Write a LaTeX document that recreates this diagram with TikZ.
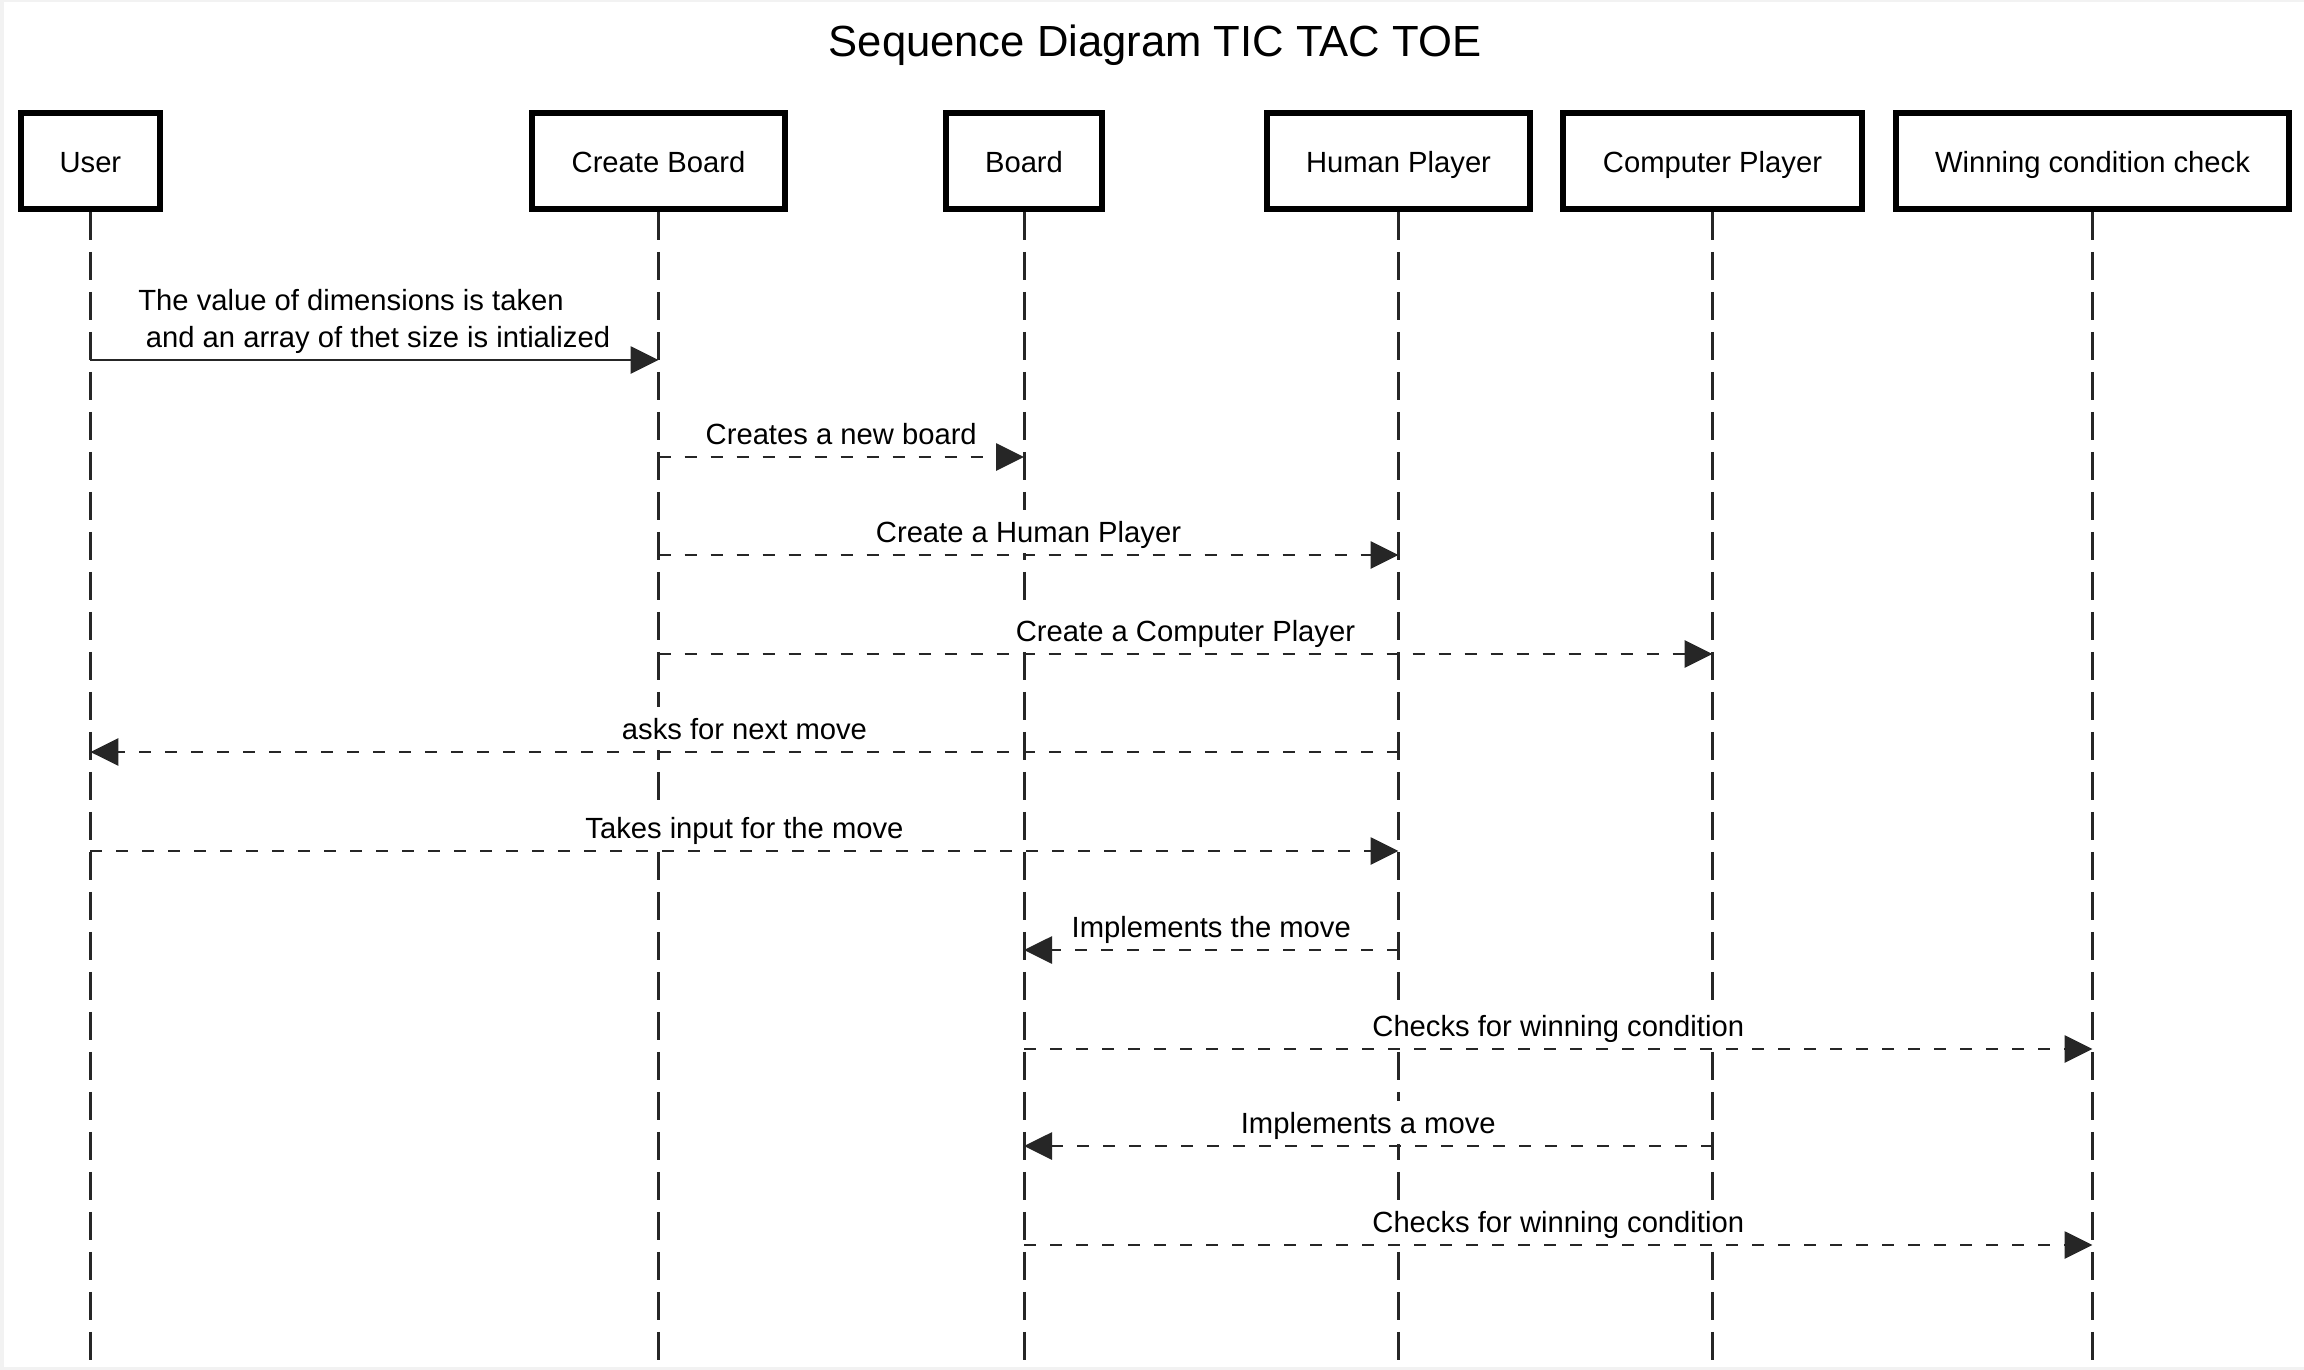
\documentclass[tikz,border=0pt]{standalone}
\usepackage{fontspec}
\setmainfont{Liberation Sans}
\usetikzlibrary{arrows.meta}
\begin{document}
\begin{tikzpicture}[x=0.5pt,y=-0.5pt,
  actor/.style={draw=black, line width=3pt, fill=white, minimum height=47.8pt, inner sep=0pt,
    text height=13pt, text depth=1.5pt, font=\fontsize{14.6}{17}\selectfont},
  life/.style={line width=1.5pt, dash pattern=on 14pt off 6pt, draw=black!85},
  msg/.style={line width=1.4pt, draw=black!85, -{Triangle[length=14pt,width=13.5pt]}},
  rmsg/.style={msg, dash pattern=on 6pt off 7pt},
  lbl/.style={font=\fontsize{14.6}{17}\selectfont, inner sep=0pt, anchor=base},
  mlbl/.style={lbl, fill=white, text height=16pt, text depth=5.5pt, inner xsep=2pt, inner ysep=0pt},
]
\useasboundingbox (0,0) rectangle (2304,1370);
\fill[black!5] (0,0) rectangle (2304,1370);
\fill[white] (4,2) rectangle (2304,1367);

\node[font=\fontsize{21.8}{26}\selectfont, inner sep=0pt] (title) at (1155,45) {Sequence Diagram TIC TAC TOE};

\node[actor, minimum width=69.8pt]  (u) at (90.4,161) {User};
\node[actor, minimum width=126.5pt] (cb) at (658.5,161) {Create Board};
\node[actor, minimum width=78pt]    (b) at (1024,161) {Board};
\node[actor, minimum width=131.5pt] (h) at (1398.5,161) {Human Player};
\node[actor, minimum width=149.5pt] (c) at (1712.5,161) {Computer Player};
\node[actor, minimum width=196.5pt] (w) at (2092.5,161) {Winning condition check};

\foreach \n in {u,cb,b,h,c,w} {
  \coordinate (\n end) at (\n |- 0,1360);
  \draw[life] (\n.south) -- (\n end);
}

% message 1
\draw[msg] (u |- 0,360) -- (cb |- 0,360);
\node[lbl, anchor=base west] (m1a) at (138,310.5) {The value of dimensions is taken};
\node[lbl, anchor=base west] (m1b) at (145.5,347) {and an array of thet size is intialized};

\draw[rmsg] (cb |- 0,457) -- (b |- 0,457) node[mlbl, midway, yshift=6.5pt] {Creates a new board};
\draw[rmsg] (cb |- 0,555) -- (h |- 0,555) node[mlbl, midway, yshift=6.5pt] {Create a Human Player};
\draw[rmsg] (cb |- 0,654) -- (c |- 0,654) node[mlbl, midway, yshift=6.5pt] {Create a Computer Player};
\draw[rmsg] (h |- 0,752) -- (u |- 0,752) node[mlbl, midway, yshift=6.5pt] {asks for next move};
\draw[rmsg] (u |- 0,851) -- (h |- 0,851) node[mlbl, midway, yshift=6.5pt] {Takes input for the move};
\draw[rmsg] (h |- 0,950) -- (b |- 0,950) node[mlbl, midway, yshift=6.5pt] {Implements the move};
\draw[rmsg] (b |- 0,1049) -- (w |- 0,1049) node[mlbl, midway, yshift=6.5pt] {Checks for winning condition};
\draw[rmsg] (c |- 0,1146) -- (b |- 0,1146) node[mlbl, midway, yshift=6.5pt] {Implements a move};
\draw[rmsg] (b |- 0,1245) -- (w |- 0,1245) node[mlbl, midway, yshift=6.5pt] {Checks for winning condition};
\end{tikzpicture}
\end{document}
